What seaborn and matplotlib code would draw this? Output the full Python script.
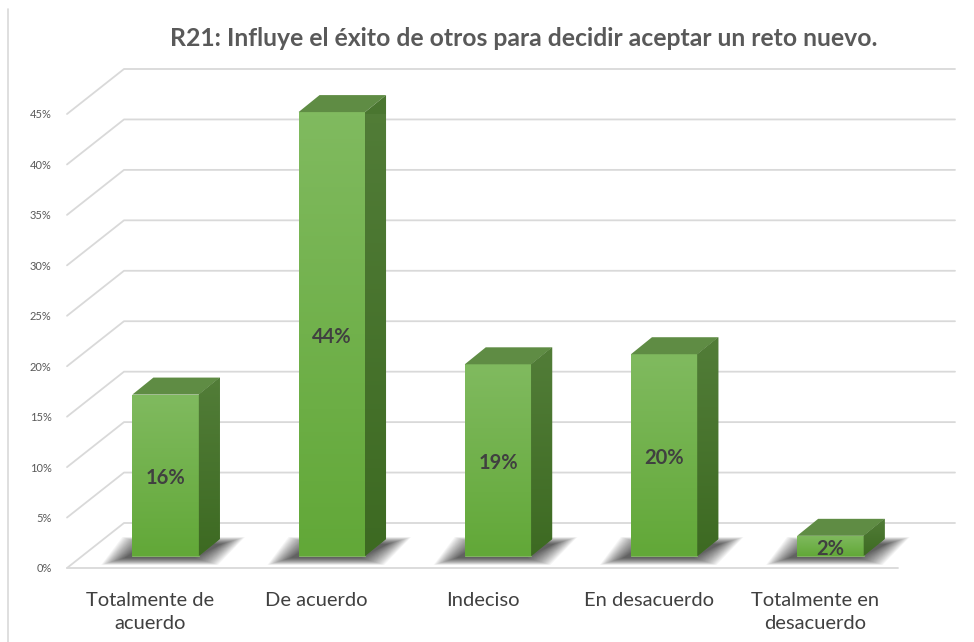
import numpy as np
import seaborn as sns
import matplotlib.pyplot as plt
from matplotlib.patches import Polygon
from matplotlib.lines import Line2D
from matplotlib.transforms import ScaledTranslation

categories = ["Totalmente de\nacuerdo", "De acuerdo", "Indeciso", "En desacuerdo", "Totalmente en\ndesacuerdo"]
values = [16, 44, 19, 20, 2]
yticks = [0, 5, 10, 15, 20, 25, 30, 35, 40, 45]
title = "R21: Influye el éxito de otros para decidir aceptar un reto nuevo."

sns.set_style("white")
plt.rcParams["font.family"] = ["Lato", "DejaVu Sans"]

fig = plt.figure(figsize=(9.74, 6.42), dpi=100)
ax = fig.add_axes([67 / 974, 74 / 642, 831 / 974, 454 / 642])

sns.barplot(x=categories, y=values, color="#70AD47", width=0.4, ax=ax,
            saturation=1, zorder=3)
ax.set_xlim(-0.5, 4.5)
ax.set_ylim(0, 45)

# pixel -> data scale factors
px_x = 831 / 5
px_y = 454 / 45
DX, DY = 57 / px_x, 45 / px_y          # floor / wall depth
ddx, ddy = 21 / px_x, 17 / px_y        # bar depth
shift = ScaledTranslation(15.5 / 100, 12 / 100, fig.dpi_scale_trans)
bar_trans = ax.transData + shift

grid_c = "#D9D9D9"
for v in yticks:
    ax.plot([-0.5, -0.5 + DX, 4.5 + DX], [v, v + DY, v + DY], color=grid_c,
            lw=1.3, clip_on=False, zorder=0)
ax.plot([-0.5, 4.5], [0, 0], color=grid_c, lw=1.3, clip_on=False, zorder=0)

grad = np.linspace(0, 1, 100).reshape(-1, 1)
side_grad = np.linspace(0, 1, 100).reshape(-1, 1)
for p, v in zip(ax.patches, values):
    x0, w, h = p.get_x(), p.get_width(), p.get_height()
    # soft shadow on the floor (stacked translucent layers)
    for k in range(22):
        e = 1.1 * k
        sx = -8
        sh = Polygon([(x0 + (sx - e) / px_x, (-2 - 0.3 * e) / px_y),
                      (x0 + w + (sx + 4 + e) / px_x, (-2 - 0.3 * e) / px_y),
                      (x0 + w + ddx + (sx + 10 + e) / px_x, ddy + (0.3 * e - 5) / px_y),
                      (x0 + ddx + (sx - e) / px_x, ddy + (0.3 * e - 5) / px_y)],
                     closed=True, facecolor="black", edgecolor="none", alpha=0.04,
                     transform=bar_trans, zorder=1, clip_on=False)
        ax.add_patch(sh)
    p.set_transform(bar_trans)
    p.set_clip_on(False)
    p.set_edgecolor("#8CC56A")
    p.set_linewidth(0.5)
    im = ax.imshow(grad, cmap=sns.blend_palette(["#62A838", "#80BA5F"], as_cmap=True),
                   extent=[x0, x0 + w, 0, h], aspect="auto", origin="lower", zorder=4)
    im.set_transform(bar_trans)
    im.set_clip_path(p)
    top = Polygon([(x0, h), (x0 + w, h), (x0 + w + ddx, h + ddy), (x0 + ddx, h + ddy)],
                  closed=True, facecolor="#5F8C44", edgecolor="none", transform=bar_trans,
                  zorder=4, clip_on=False)
    side = Polygon([(x0 + w, 0), (x0 + w + ddx, ddy), (x0 + w + ddx, h + ddy), (x0 + w, h)],
                   closed=True, facecolor="#4A7630", edgecolor="none", transform=bar_trans,
                   zorder=4, clip_on=False)
    ax.add_patch(top)
    ax.add_patch(side)
    sim = ax.imshow(side_grad, cmap=sns.blend_palette(["#3D6A22", "#527D38"], as_cmap=True),
                    extent=[x0 + w, x0 + w + ddx, 0, h + ddy], aspect="auto",
                    origin="lower", zorder=4.5)
    sim.set_transform(bar_trans)
    sim.set_clip_path(side)
    ax.text(x0 + w / 2, h / 2 - 0.3, f"{v}%", transform=bar_trans, ha="center", va="center",
            fontsize=14.5, fontweight="bold", color="#404040", zorder=6)

ax.set_xlim(-0.5, 4.5)
ax.set_ylim(0, 45)
ax.set_yticks(yticks)
ax.set_yticklabels([f"{v}%" for v in yticks], fontsize=8, color="#595959")
ax.tick_params(axis="y", length=0, pad=11)
ax.tick_params(axis="x", length=0, pad=17, labelsize=14.5, labelcolor="#404040")
for lab in ax.get_xticklabels():
    lab.set_linespacing(1.45)
ax.set_xlabel("")
ax.set_ylabel("")
for s in ax.spines.values():
    s.set_visible(False)

fig.text(524 / 974, 1 - 38 / 642, title, ha="center", va="center", fontsize=17.8,
         fontweight="bold", color="#595959")
fig.add_artist(Line2D([8 / 974, 8 / 974], [0, 1 - 9 / 642], color=grid_c, lw=1.2))

fig.savefig("out.png", dpi=100)
